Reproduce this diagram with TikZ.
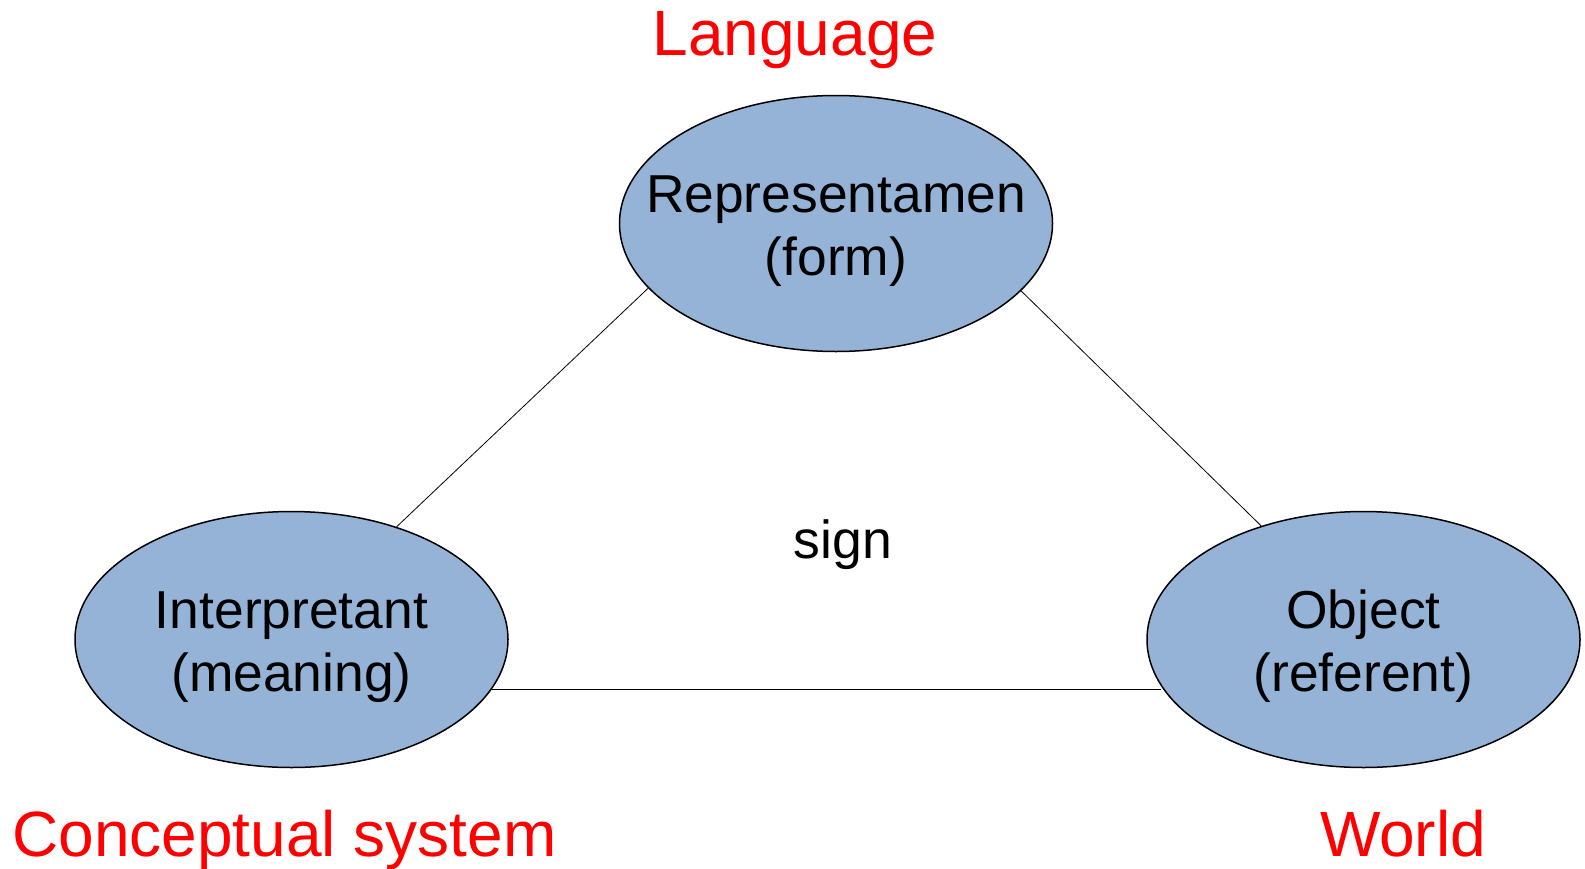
\documentclass[tikz,border=0pt]{standalone}
\usepackage{fontspec}
\setmainfont{Liberation Sans}
\usetikzlibrary{shapes.geometric}
\definecolor{pale}{RGB}{149,179,215}
\tikzset{
    corner/.style = {ellipse,
                    fill=pale,
                    draw=black,
                    text=black,
                    line width=0.75pt,
                    inner ysep=0pt,
                    inner xsep=-60pt,
                    align=center,
                    text height=57pt,
                    text depth=5.5pt,
                    minimum width=216.5pt,
                    minimum height=128pt,
                    font=\fontsize{26.7}{31.5}\selectfont},
    realm/.style =  {text=red,
                    inner sep=0pt,
                    font=\fontsize{32}{38}\selectfont},
    word/.style =   {text=black,
                    inner sep=0pt,
                    font=\fontsize{26.8}{30}\selectfont},
    -,
    line width=0.85pt}

\begin{document}
\begin{tikzpicture}[x=0.5pt,y=-0.5pt]
    \useasboundingbox (0,0) rectangle (1585,868);
                                \node[corner]       (R) at (836,223.5)      {Representamen\\(form)};
                                \node[corner]       (I) at (291.5,639.5)    {Interpretant\\(meaning)};
                                \node[corner]       (O) at (1363.5,639.5)   {Object\\(referent)};

                                \path   (R.199.5) edge [] (I.47.4)
                                        (R.340.5) edge [] (O.132.6)
                                        (I.346.5) edge [] (I.346.5 -| O.193.5);

                                % the three realms and the sign in the middle
                                \node[realm,anchor=base]        (lang)  at (795,55)     {Language};
                                \node[realm,anchor=base west]   (conc)  at (12,856)     {Conceptual system};
                                \node[realm,anchor=base]        (world) at (1403,856)   {World};
                                \node[word,anchor=base]         (sign)  at (843,558)    {sign};
\end{tikzpicture}
\end{document}
